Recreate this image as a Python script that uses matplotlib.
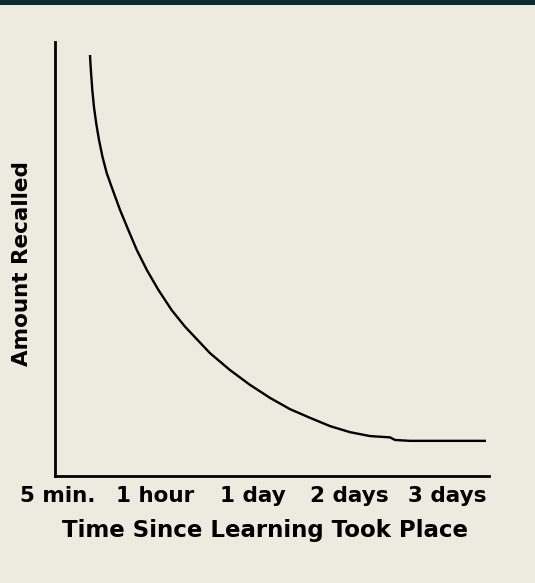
import matplotlib
matplotlib.use("Agg")
import matplotlib.pyplot as plt
from matplotlib.patches import Rectangle

# x: tick index (0 = 5 min ... 4 = 3 days), y: amount recalled (0-100)
time_pos = [0.329, 0.334, 0.340, 0.353, 0.370, 0.394, 0.422, 0.458, 0.501,
            0.563, 0.638, 0.723, 0.810, 0.913, 1.032, 1.170, 1.307, 1.564,
            1.770, 1.975, 2.181, 2.387, 2.593, 2.798, 3.004, 3.210, 3.416,
            3.467, 3.621, 4.403]
recalled = [97.0, 94.9, 92.9, 88.9, 85.0, 81.1, 77.4, 73.5, 69.8,
            65.9, 61.3, 56.7, 52.1, 47.5, 42.9, 38.2, 34.4, 28.3,
            24.4, 21.0, 18.0, 15.4, 13.4, 11.5, 10.1, 9.2, 8.9,
            8.3, 8.1, 8.1]
tick_labels = ["5 min.", "1 hour", "1 day", "2 days", "3 days"]

bg = "#edeadf"
plt.rcParams['font.family'] = ['DejaVu Sans']

fig = plt.figure(figsize=(5.35, 5.83), dpi=100, facecolor=bg)
# dark band at the top
fig.patches.append(Rectangle((0, 1 - 5 / 583), 1, 5 / 583, transform=fig.transFigure,
                             facecolor="#0e2a34", edgecolor="none"))

ax = fig.add_axes([55 / 535, 1 - 476 / 583, 434 / 535, 434 / 583])
ax.set_facecolor(bg)
ax.plot(time_pos, recalled, color="black", lw=1.7, solid_capstyle="butt",
        solid_joinstyle="round")

ax.set_xlim(-0.031, 4.434)
ax.set_ylim(0, 100)
for s in ["top", "right"]:
    ax.spines[s].set_visible(False)
for s in ["left", "bottom"]:
    ax.spines[s].set_linewidth(2)

ax.set_xticks(range(len(tick_labels)))
ax.set_xticklabels(tick_labels, fontsize=15.5, fontweight="bold")
ax.tick_params(axis="x", length=0, pad=7)
ax.set_yticks([])

fig.text(265 / 535, 1 - 537 / 583, "Time Since Learning Took Place",
         ha="center", va="baseline", fontsize=16.5, fontweight="bold")
fig.text(22 / 535, 1 - 264 / 583, "Amount Recalled", rotation=90,
         ha="center", va="center", fontsize=15.5, fontweight="bold")

fig.savefig("out.png", dpi=100, facecolor=bg)
